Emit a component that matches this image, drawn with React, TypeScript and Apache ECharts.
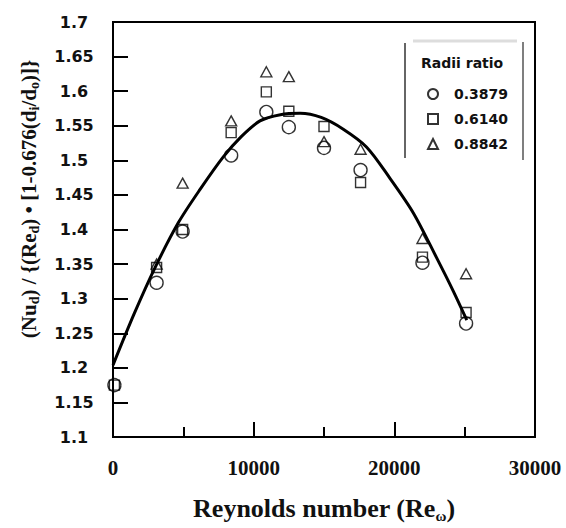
import React, { useEffect, useRef } from "react";
import * as echarts from "echarts";

// Reynolds numbers of the measured points
const reynolds = [100, 3100, 4950, 8400, 10900, 12500, 15000, 17600, 22000, 25100];
// Radii ratio 0.3879 (circles)
const ratio3879 = [1.175, 1.323, 1.397, 1.507, 1.57, 1.548, 1.518, 1.486, 1.352, 1.264];
// Radii ratio 0.6140 (squares)
const ratio6140 = [1.175, 1.345, 1.4, 1.54, 1.599, 1.571, 1.549, 1.468, 1.36, 1.28];
// Radii ratio 0.8842 (triangles), none at the first position
const ratio8842 = [null, 1.35, 1.467, 1.557, 1.628, 1.621, 1.527, 1.516, 1.387, 1.336];

// Correlation curve
const curveX = [0, 1500, 2990, 4650, 6190, 7840, 9100, 10450, 11900, 13300, 14800, 16370, 18035, 19690, 21350, 23010, 24190, 25150];
const curveY = [1.204, 1.278, 1.345, 1.41, 1.458, 1.505, 1.534, 1.557, 1.566, 1.568, 1.562, 1.545, 1.519, 1.474, 1.424, 1.359, 1.311, 1.269];

const seriesNames = ["0.3879", "0.6140", "0.8842"];
const legendTitle = "Radii ratio";

function pairs(xs: number[], ys: (number | null)[]) {
  const out: number[][] = [];
  xs.forEach((x, i) => {
    const y = ys[i];
    if (y !== null && y !== undefined) out.push([x, y]);
  });
  return out;
}

export default function App() {
  const ref = useRef<HTMLDivElement>(null);
  useEffect(() => {
    if (!ref.current) return;
    const chart = echarts.init(ref.current, undefined, { renderer: "svg" });
    const symStyle = { color: "transparent", borderColor: "#000", borderWidth: 1.4 };
    const serif = "Liberation Serif";
    chart.setOption({
      animation: false,
      backgroundColor: "#fff",
      grid: { left: 113, right: 31, top: 22, bottom: 82, show: true, borderColor: "#000", borderWidth: 2, backgroundColor: "transparent" },
      legend: {
        orient: "vertical",
        left: 422,
        top: 82,
        itemWidth: 10,
        itemHeight: 10,
        itemGap: 11,
        data: seriesNames,
        textStyle: { fontFamily: "DejaVu Sans", fontWeight: "bold", fontSize: 14, color: "#111", padding: [0, 0, 0, 11] },
      },
      xAxis: {
        type: "value",
        min: 0,
        max: 30000,
        interval: 10000,
        axisLine: { lineStyle: { color: "#000", width: 2 } },
        axisTick: { inside: true, length: 15, lineStyle: { color: "#000", width: 2 } },
        minorTick: { show: true, splitNumber: 2, length: 10, lineStyle: { color: "#000", width: 2 } },
        splitLine: { show: false },
        axisLabel: { margin: 20, fontFamily: serif, fontWeight: "bold", fontSize: 21, color: "#111", formatter: (v: number) => String(v) },
        name: "{n|Reynolds number (Re}{s|ω}{n|)}",
        nameLocation: "middle",
        nameGap: 56,
        nameTextStyle: {
          rich: {
            n: { fontFamily: serif, fontWeight: "bold", fontSize: 26, color: "#111", lineHeight: 30 },
            s: { fontFamily: serif, fontWeight: "bold", fontSize: 15, color: "#111", verticalAlign: "bottom", lineHeight: 15 },
          },
        },
      },
      yAxis: {
        type: "value",
        min: 1.1,
        max: 1.7,
        interval: 0.05,
        axisLine: { lineStyle: { color: "#000", width: 2 } },
        axisTick: { inside: true, length: 15, lineStyle: { color: "#000", width: 2 } },
        splitLine: { show: false },
        axisLabel: { margin: 39, align: "center", fontFamily: "DejaVu Sans", fontWeight: "bold", fontSize: 16, color: "#111", padding: [5, 0, 0, 0] },
      },
      graphic: [
        {
          type: "text",
          x: 29,
          y: 199,
          rotation: Math.PI / 2,
          style: {
            text: "{n|(Nu}{s|d}{n|) / {(Re}{s|d}{n|) • [1-0.676(d}{s|i}{n|/d}{s|o}{n|)]}}",
            align: "center",
            verticalAlign: "middle",
            fontFamily: serif,
            fontWeight: "bold",
            fontSize: 21,
            fill: "#111",
            rich: {
              n: { fontFamily: serif, fontWeight: "bold", fontSize: 21, fill: "#111", lineHeight: 25 },
              s: { fontFamily: serif, fontWeight: "bold", fontSize: 14, fill: "#111", verticalAlign: "bottom", lineHeight: 14 },
            },
          },
        },
        { type: "line", shape: { x1: 405, y1: 43, x2: 405, y2: 158 }, style: { stroke: "#333", lineWidth: 1.5 } },
        { type: "line", shape: { x1: 523, y1: 42, x2: 523, y2: 160 }, style: { stroke: "#555", lineWidth: 1.5 } },
        { type: "line", shape: { x1: 413, y1: 41, x2: 517, y2: 41 }, style: { stroke: "#ddd", lineWidth: 3 } },
        {
          type: "text",
          x: 421,
          y: 63,
          style: { text: legendTitle, fontFamily: "DejaVu Sans", fontWeight: "bold", fontSize: 14, fill: "#111", verticalAlign: "middle" },
        },
      ],
      series: [
        {
          name: "fit",
          type: "line",
          data: pairs(curveX, curveY),
          smooth: 0.3,
          showSymbol: false,
          lineStyle: { color: "#000", width: 3 },
          z: 1,
        },
        { name: seriesNames[0], type: "scatter", symbol: "circle", symbolSize: 13, data: pairs(reynolds, ratio3879), itemStyle: symStyle, z: 3 },
        { name: seriesNames[1], type: "scatter", symbol: "rect", symbolSize: 10, data: pairs(reynolds, ratio6140), itemStyle: symStyle, z: 3 },
        { name: seriesNames[2], type: "scatter", symbol: "triangle", symbolSize: [11, 10], data: pairs(reynolds, ratio8842), itemStyle: symStyle, z: 3 },
      ],
    });
    return () => chart.dispose();
  }, []);
  return <div ref={ref} style={{ position: "fixed", left: 0, top: 0, width: 566, height: 528, background: "#fff" }} />;
}
